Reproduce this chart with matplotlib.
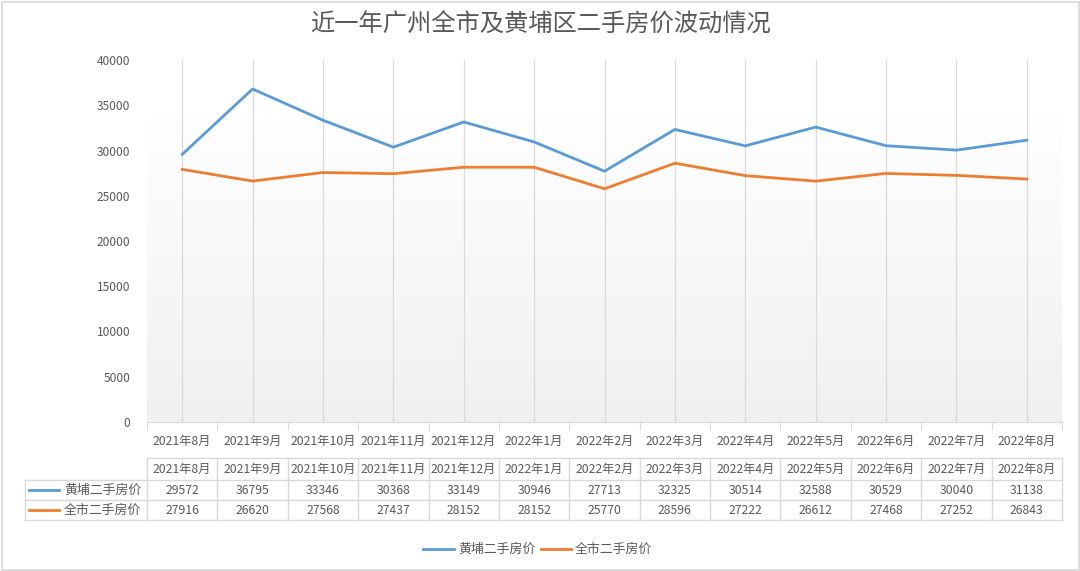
import numpy as np
import matplotlib.pyplot as plt

plt.rcParams['font.family'] = ['Noto Sans CJK SC', 'DejaVu Sans']

months = ['2021年8月', '2021年9月', '2021年10月', '2021年11月', '2021年12月',
          '2022年1月', '2022年2月', '2022年3月', '2022年4月', '2022年5月',
          '2022年6月', '2022年7月', '2022年8月']
huangpu = [29572, 36795, 33346, 30368, 33149, 30946, 27713,
           32325, 30514, 32588, 30529, 30040, 31138]
city = [27916, 26620, 27568, 27437, 28152, 28152, 25770,
        28596, 27222, 26612, 27468, 27252, 26843]
series_names = ['黄埔二手房价', '全市二手房价']
title = '近一年广州全市及黄埔区二手房价波动情况'

BLUE = '#5B9BD5'
ORANGE = '#ED7D31'
TXT = '#595959'
GRID = '#d9d9d9'

W, H = 1080, 571
fig = plt.figure(figsize=(W / 100, H / 100), dpi=100)

# overlay in pixel coordinates for border, table, legend
ov = fig.add_axes([0, 0, 1, 1])
ov.set_xlim(0, W)
ov.set_ylim(H, 0)
ov.axis('off')
ov.add_patch(plt.Rectangle((1.5, 1.5), W - 3, H - 3, fill=False, ec=GRID, lw=1.2))

# main plot area
x0, x1 = 147, 1062
ytop, ybot = 60, 422
ax = fig.add_axes([x0 / W, 1 - ybot / H, (x1 - x0) / W, (ybot - ytop) / H])
n = len(months)
xs = np.arange(n)
ax.set_xlim(-0.5, n - 0.5)
ax.set_ylim(0, 40000)

grad = np.linspace(0, 1, 256).reshape(-1, 1)
grad = np.clip(grad / 0.85, 0, 1)
cmap = plt.matplotlib.colors.LinearSegmentedColormap.from_list('g', ['#f0f0f0', '#ffffff'])
ax.imshow(grad, aspect='auto', cmap=cmap, extent=(-0.5, n - 0.5, 0, 40000),
          origin='lower', zorder=0)

for x in xs:
    ax.axvline(x, color=GRID, lw=0.9, zorder=1)

ax.plot(xs, huangpu, color=BLUE, lw=2.0, zorder=3, solid_joinstyle='round')
ax.plot(xs, city, color=ORANGE, lw=2.0, zorder=3, solid_joinstyle='round')

for s in ['top', 'right', 'left']:
    ax.spines[s].set_visible(False)
ax.spines['bottom'].set_color(GRID)
ax.set_yticks(np.arange(0, 40001, 5000))
ax.tick_params(axis='y', length=0, labelsize=8.6, labelcolor=TXT, pad=12)
ax.set_xticks(np.arange(-0.5, n, 1))
ax.set_xticklabels([])
ax.tick_params(axis='x', length=6, color=GRID)
for i, m in enumerate(months):
    ax.text(i, -1400, m, ha='center', va='top', fontsize=8.8, color=TXT)

fig.text(0.5, 1 - 25 / H, title, ha='center', va='center', fontsize=17.5,
         color=TXT, fontweight='medium')

# data table
cw = (x1 - x0) / n
rows = [458, 480, 500, 520]
lx = 25
ov.plot([x0, x1], [rows[0], rows[0]], color=GRID, lw=1)
for r in rows[1:]:
    ov.plot([lx, x1], [r, r], color=GRID, lw=1)
ov.plot([lx, lx], [rows[1], rows[3]], color=GRID, lw=1)
for i in range(n + 1):
    xv = x0 + i * cw
    ov.plot([xv, xv], [rows[0], rows[3]], color=GRID, lw=1)
for i, m in enumerate(months):
    cx = x0 + (i + 0.5) * cw
    ov.text(cx, (rows[0] + rows[1]) / 2, m, ha='center', va='center', fontsize=8.8, color=TXT)
    ov.text(cx, (rows[1] + rows[2]) / 2, str(huangpu[i]), ha='center', va='center', fontsize=8.8, color=TXT)
    ov.text(cx, (rows[2] + rows[3]) / 2, str(city[i]), ha='center', va='center', fontsize=8.8, color=TXT)
for k, (name, col) in enumerate(zip(series_names, [BLUE, ORANGE])):
    yc = (rows[k + 1] + rows[k + 2]) / 2
    ov.plot([29, 59], [yc, yc], color=col, lw=2)
    ov.text(64, yc, name, ha='left', va='center', fontsize=9.3, color=TXT)

# legend
ly = 549
ov.plot([423, 454], [ly, ly], color=BLUE, lw=2)
ov.text(458, ly, series_names[0], ha='left', va='center', fontsize=9.3, color=TXT)
ov.plot([541, 571], [ly, ly], color=ORANGE, lw=2)
ov.text(575, ly, series_names[1], ha='left', va='center', fontsize=9.3, color=TXT)

fig.savefig('out.png', dpi=100)
